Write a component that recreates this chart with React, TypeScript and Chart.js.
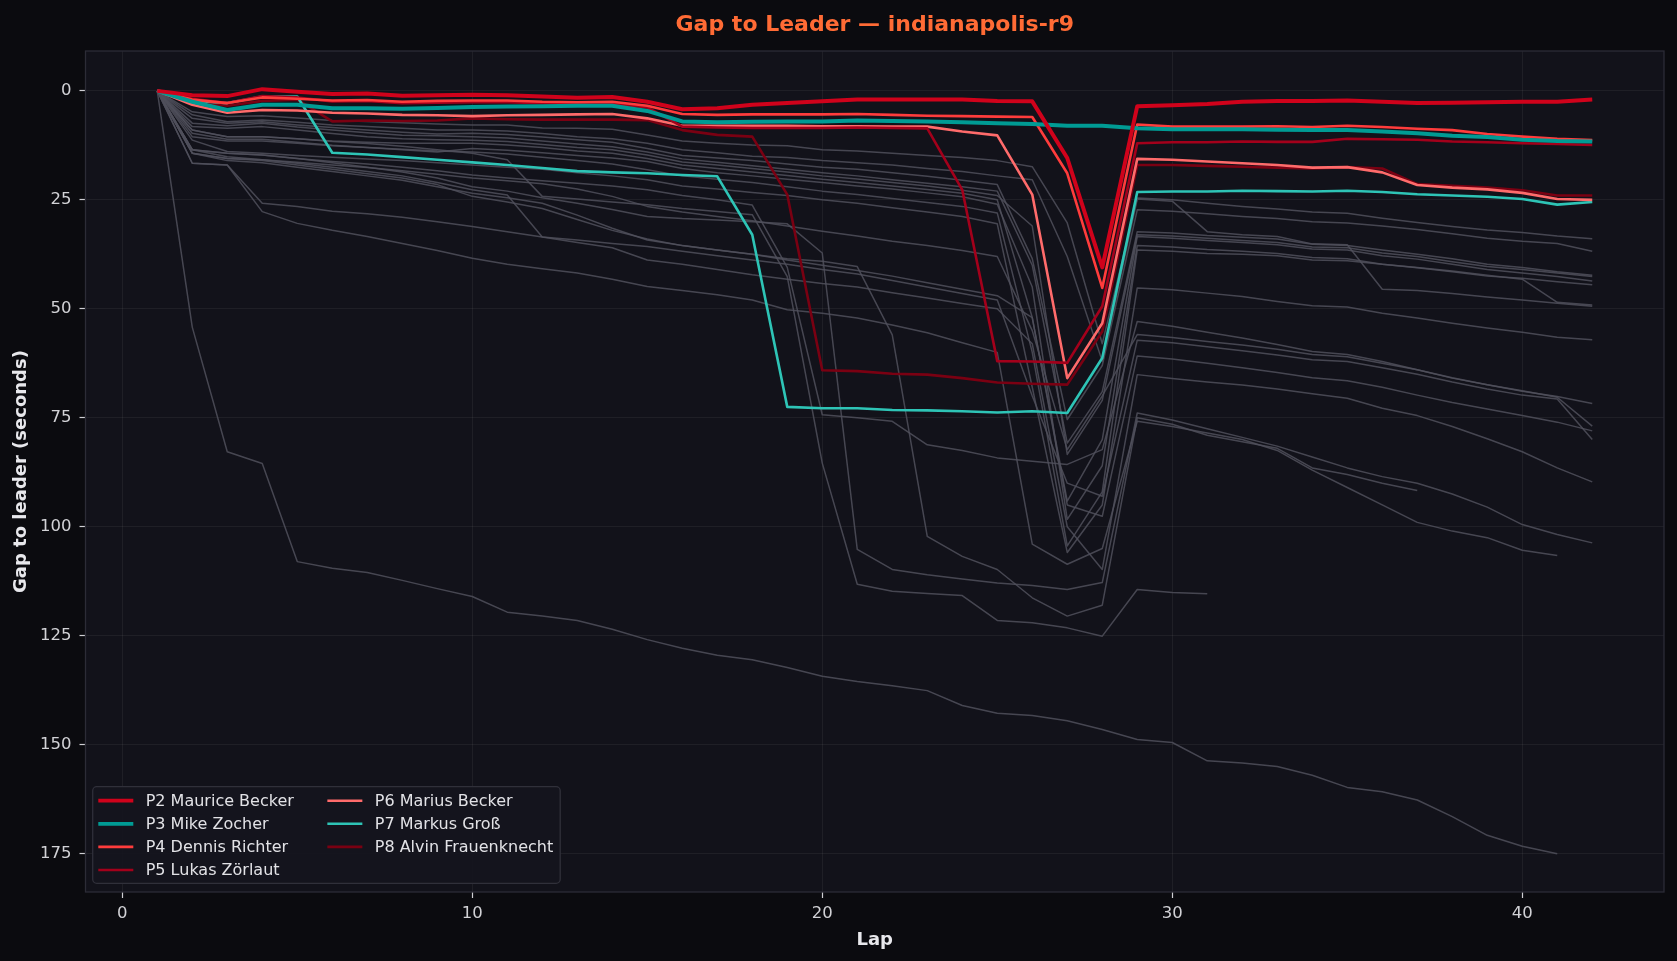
import React, { useEffect, useRef } from 'react';
import { Chart, registerables } from 'chart.js';

Chart.register(...registerables);

// ---------- data ----------
const laps = [1, 2, 3, 4, 5, 6, 7, 8, 9, 10, 11, 12, 13, 14, 15, 16, 17, 18, 19, 20, 21, 22, 23, 24, 25, 26, 27, 28, 29, 30, 31, 32, 33, 34, 35, 36, 37, 38, 39, 40, 41, 42];
const xTickValues = [0, 10, 20, 30, 40];
const yTickValues = [0, 25, 50, 75, 100, 125, 150, 175];

const chartTitle = 'Gap to Leader — indianapolis-r9';
const xTitle = 'Lap';
const yTitle = 'Gap to leader (seconds)';

const highlightNames = [
  'P2 Maurice Becker',
  'P3 Mike Zocher',
  'P4 Dennis Richter',
  'P5 Lukas Zörlaut',
  'P6 Marius Becker',
  'P7 Markus Groß',
  'P8 Alvin Frauenknecht',
];

const p2MauriceBecker = [0, 1.0, 1.2, -0.4, 0.2, 0.7, 0.6, 1.1, 1.0, 0.9, 1.0, 1.3, 1.6, 1.4, 2.5, 4.2, 4.0, 3.2, 2.8, 2.4, 2.0, 2.0, 2.0, 2.0, 2.3, 2.4, 15.4, 40.5, 3.5, 3.3, 3.0, 2.5, 2.3, 2.3, 2.2, 2.5, 2.8, 2.7, 2.6, 2.5, 2.5, 2.0];
const p3MikeZocher = [0, 2.5, 4.4, 3.2, 3.2, 4.0, 4.0, 4.1, 3.9, 3.7, 3.6, 3.5, 3.4, 3.4, 4.6, 7.0, 7.2, 7.1, 7.0, 7.0, 6.8, 6.9, 7.0, 7.2, 7.4, 7.6, 8.0, 8.0, 8.6, 8.8, 8.8, 8.8, 8.9, 9.0, 9.0, 9.3, 9.7, 10.3, 10.6, 11.2, 11.5, 11.6];
const p4DennisRichter = [0, 2.0, 2.8, 1.5, 1.8, 2.2, 2.1, 2.5, 2.3, 2.2, 2.2, 2.5, 2.6, 2.5, 3.4, 5.3, 5.5, 5.4, 5.4, 5.4, 5.3, 5.5, 5.7, 5.8, 5.9, 6.0, 18.9, 45.2, 7.7, 8.2, 8.2, 8.2, 8.1, 8.3, 8.0, 8.3, 8.7, 9.0, 9.9, 10.5, 11.0, 11.3];
const p5LukasZoerlaut = [0, 1.8, 2.8, 1.2, 1.5, 2.4, 2.3, 2.8, 2.7, 2.6, 2.6, 2.8, 3.0, 2.9, 3.8, 8.2, 8.4, 8.5, 8.5, 8.5, 8.4, 8.5, 8.6, 22.7, 62.0, 62.1, 62.4, 49.4, 12.0, 11.8, 11.8, 11.6, 11.7, 11.7, 11.0, 11.1, 11.2, 11.6, 11.8, 12.0, 12.2, 12.4];
const p6MariusBecker = [0, 3.2, 5.0, 4.4, 4.5, 5.0, 5.2, 5.5, 5.6, 5.8, 5.6, 5.5, 5.4, 5.3, 6.3, 8.0, 8.0, 8.0, 8.0, 8.1, 8.1, 8.2, 8.2, 9.3, 10.2, 23.8, 65.9, 53.3, 15.6, 15.8, 16.2, 16.6, 17.0, 17.6, 17.5, 18.7, 21.6, 22.2, 22.6, 23.4, 24.8, 25.0];
const p7MarkusGross = [0, 2.2, 2.8, 1.3, 1.3, 14.2, 14.6, 15.2, 15.8, 16.4, 17.0, 17.7, 18.4, 18.7, 18.9, 19.3, 19.6, 33.0, 72.5, 72.8, 72.8, 73.2, 73.3, 73.5, 73.8, 73.5, 73.9, 61.3, 23.2, 23.1, 23.1, 22.9, 23.0, 23.1, 22.9, 23.2, 23.7, 24.0, 24.3, 24.8, 26.1, 25.5];
const p8AlvinFrauenknecht = [0, 2.4, 3.4, 2.3, 2.0, 7.0, 6.8, 6.9, 6.8, 6.3, 6.5, 6.6, 6.6, 6.6, 6.7, 9.0, 10.1, 10.5, 23.8, 64.1, 64.3, 64.9, 65.1, 65.9, 66.9, 67.2, 67.4, 55.2, 17.0, 17.0, 17.2, 17.4, 17.6, 17.8, 17.5, 17.8, 21.4, 21.8, 22.2, 22.8, 24.0, 24.0];

// other drivers (grey background lines)
const greyA = [0, 4.8, 5.9, 5.7, 6.2, 6.8, 7.0, 7.3, 7.6, 7.8, 7.8, 8.5, 8.6, 8.8, 10.1, 11.5, 12.0, 12.4, 12.6, 13.5, 13.8, 14.3, 14.8, 15.3, 16.0, 17.4, 30.3, 58.0, 24.6, 25.0, 25.8, 26.5, 27.1, 27.8, 28.1, 29.2, 30.2, 31.1, 31.9, 32.5, 33.3, 33.9];
const greyB = [0, 5.5, 7.1, 6.7, 7.2, 7.8, 8.2, 8.6, 9.0, 9.0, 9.2, 9.8, 10.5, 11.0, 12.0, 13.5, 14.2, 15.0, 15.3, 16.0, 16.5, 17.0, 17.8, 18.5, 19.5, 20.4, 38.0, 62.0, 24.8, 25.3, 32.3, 33.0, 33.4, 35.1, 35.3, 45.5, 45.8, 46.5, 47.3, 48.0, 48.7, 49.4];
const greyC = [0, 6.3, 7.4, 7.1, 7.8, 8.4, 9.0, 9.5, 9.9, 9.7, 10.0, 10.6, 11.2, 11.8, 13.2, 14.8, 15.4, 16.0, 16.8, 17.5, 18.0, 18.8, 19.6, 20.5, 21.5, 38.5, 75.4, 63.0, 27.3, 27.6, 28.2, 28.8, 29.3, 30.0, 30.3, 31.0, 31.8, 32.8, 33.8, 34.5, 35.0, 36.8];
const greyD = [0, 7.4, 8.0, 7.4, 8.3, 9.0, 9.6, 10.2, 10.3, 10.5, 10.8, 11.5, 12.2, 12.8, 14.0, 15.6, 16.4, 17.2, 18.0, 18.8, 19.5, 20.4, 21.2, 22.0, 23.0, 40.0, 80.8, 69.0, 32.3, 32.6, 33.2, 33.6, 34.0, 35.2, 35.5, 36.5, 37.5, 38.5, 39.8, 40.5, 41.5, 42.3];
const greyE = [0, 8.2, 8.6, 8.2, 9.0, 9.8, 10.5, 11.0, 11.2, 11.3, 11.6, 12.3, 13.0, 13.5, 14.7, 16.3, 17.0, 17.8, 18.6, 19.5, 20.2, 21.0, 21.8, 22.8, 24.0, 31.0, 83.4, 71.0, 33.0, 33.3, 33.8, 34.3, 34.8, 35.8, 36.0, 37.2, 38.0, 39.2, 40.3, 41.0, 41.8, 42.6];
const greyF = [0, 9.0, 10.5, 10.5, 11.0, 11.5, 11.8, 12.0, 12.0, 12.0, 12.4, 13.0, 13.8, 14.3, 15.5, 17.0, 17.8, 18.6, 19.4, 20.3, 21.0, 21.8, 22.6, 23.5, 25.0, 52.0, 94.1, 80.0, 33.4, 33.8, 34.3, 34.8, 35.3, 36.3, 36.5, 37.8, 38.6, 39.8, 41.0, 41.8, 42.6, 43.6];
const greyG = [0, 9.7, 11.1, 11.1, 11.8, 12.5, 13.0, 13.5, 14.0, 13.2, 13.6, 14.2, 14.8, 15.4, 16.2, 17.8, 18.8, 19.5, 20.3, 21.0, 21.8, 22.5, 23.4, 24.3, 26.0, 45.0, 98.3, 86.0, 35.5, 35.8, 36.4, 36.8, 37.3, 38.2, 38.5, 39.8, 40.6, 41.5, 42.5, 43.0, 43.8, 44.5];
const greyH = [0, 10.5, 11.5, 11.5, 12.0, 12.6, 13.0, 13.4, 13.8, 14.0, 14.5, 15.2, 16.0, 16.8, 18.1, 19.5, 20.3, 21.0, 22.0, 23.0, 23.8, 24.7, 25.6, 26.5, 28.0, 60.0, 104.4, 92.0, 36.5, 36.8, 37.3, 37.5, 37.8, 38.8, 39.0, 39.8, 40.5, 41.3, 42.3, 43.2, 48.5, 49.1];
const greyI = [0, 11.3, 13.9, 14.3, 14.8, 15.2, 15.6, 16.0, 16.5, 17.0, 17.5, 18.0, 18.8, 19.5, 20.4, 21.8, 22.5, 23.3, 24.0, 25.0, 25.8, 26.8, 27.8, 28.8, 30.5, 68.0, 105.9, 95.0, 45.2, 45.6, 46.4, 47.2, 48.3, 49.3, 49.6, 51.0, 52.1, 53.3, 54.4, 55.4, 56.5, 57.1];
const greyJ = [0, 13.5, 14.3, 14.7, 15.5, 16.2, 16.8, 17.5, 18.3, 19.3, 20.0, 20.6, 21.2, 21.8, 22.7, 24.0, 25.0, 26.2, 40.5, 74.3, 75.0, 75.8, 81.2, 82.5, 84.2, 85.0, 85.7, 82.3, 52.9, 54.0, 55.4, 56.7, 58.2, 59.8, 60.5, 62.1, 64.0, 65.9, 67.4, 68.9, 70.1, 71.7];
const greyK = [0, 9.0, 10.5, 10.5, 11.0, 11.6, 12.1, 12.7, 13.5, 14.3, 15.8, 24.2, 24.8, 25.5, 26.1, 27.0, 27.7, 28.4, 42.6, 85.4, 113.2, 114.8, 115.3, 115.8, 121.5, 122.0, 123.2, 125.1, 114.4, 115.1, 115.4];
const greyL = [0, 13.5, 15.1, 15.8, 16.4, 17.0, 17.6, 18.3, 19.1, 20.0, 20.6, 21.3, 22.5, 24.2, 26.5, 27.8, 28.8, 29.8, 31.0, 32.2, 33.3, 34.5, 35.5, 36.6, 38.0, 55.0, 82.3, 70.0, 55.9, 56.6, 57.5, 58.3, 59.3, 60.5, 61.0, 62.5, 64.0, 65.8, 67.4, 68.8, 70.3, 76.9];
const greyM = [0, 14.3, 15.5, 15.8, 16.6, 17.5, 18.5, 19.5, 21.0, 22.7, 23.9, 33.5, 34.2, 35.0, 35.7, 36.8, 37.8, 38.8, 39.8, 41.0, 42.0, 43.5, 45.0, 46.5, 48.0, 70.0, 90.0, 93.0, 57.2, 57.8, 58.7, 59.6, 60.6, 61.7, 62.1, 63.5, 65.0, 66.8, 68.4, 69.8, 70.7, 80.0];
const greyN = [0, 14.3, 16.0, 16.5, 17.5, 18.5, 19.5, 20.5, 22.0, 23.5, 24.5, 25.8, 28.5, 31.5, 34.2, 35.5, 36.5, 37.5, 38.8, 40.0, 41.2, 42.5, 44.0, 45.5, 47.0, 52.0, 95.0, 97.6, 60.8, 61.5, 62.5, 63.5, 64.6, 65.8, 66.5, 68.0, 69.8, 71.5, 73.0, 74.5, 76.0, 78.0];
const greyO = [0, 16.6, 17.0, 25.8, 26.5, 27.6, 28.2, 29.0, 30.0, 31.1, 32.3, 33.5, 34.8, 36.0, 38.8, 39.8, 41.0, 42.2, 43.2, 44.2, 45.0, 46.3, 47.5, 48.8, 50.0, 58.0, 100.0, 109.8, 65.1, 66.0, 66.8, 67.5, 68.4, 69.5, 70.5, 72.8, 74.5, 77.0, 79.8, 82.8, 86.5, 89.7];
const greyP = [0, 16.6, 17.0, 27.7, 30.4, 32.0, 33.4, 35.0, 36.6, 38.4, 39.8, 40.8, 41.8, 43.2, 44.9, 45.8, 46.8, 48.0, 50.2, 51.0, 52.1, 53.7, 55.5, 57.8, 60.0, 104.0, 108.6, 105.0, 75.8, 77.0, 78.5, 80.0, 82.5, 87.0, 91.0, 95.0, 99.0, 101.0, 102.5, 105.4, 106.6];
const greyQ = [0, 13.5, 14.3, 14.7, 15.5, 16.5, 17.5, 18.6, 20.0, 22.0, 23.0, 24.5, 25.8, 27.2, 28.8, 29.3, 29.6, 30.0, 30.5, 37.2, 105.2, 109.8, 111.0, 112.0, 112.9, 113.5, 114.4, 112.8, 73.9, 75.5, 77.5, 79.5, 81.5, 84.0, 86.5, 88.5, 90.0, 92.5, 95.5, 99.5, 101.8, 103.7];
const greyR = [0, 14.3, 15.5, 16.0, 17.0, 18.0, 19.0, 20.0, 21.5, 24.2, 25.5, 27.0, 29.5, 32.0, 34.0, 35.5, 36.5, 37.5, 38.5, 39.1, 40.3, 56.0, 102.2, 106.8, 109.8, 116.3, 120.5, 118.0, 75.0, 76.5, 79.0, 80.5, 82.0, 86.5, 88.0, 90.0, 91.7];
const greyS = [0, 54.2, 82.8, 85.5, 108.0, 109.5, 110.5, 112.3, 114.2, 116.0, 119.6, 120.5, 121.5, 123.5, 125.9, 127.9, 129.5, 130.5, 132.3, 134.3, 135.5, 136.5, 137.6, 141.0, 142.8, 143.3, 144.5, 146.5, 148.8, 149.5, 153.7, 154.2, 155.0, 157.0, 159.8, 160.8, 162.7, 166.5, 170.8, 173.3, 175.0];

const highlightSeries = [p2MauriceBecker, p3MikeZocher, p4DennisRichter, p5LukasZoerlaut, p6MariusBecker, p7MarkusGross, p8AlvinFrauenknecht];
const greySeries = [greyA, greyB, greyC, greyD, greyE, greyF, greyG, greyH, greyI, greyJ, greyK, greyL, greyM, greyN, greyO, greyP, greyQ, greyR, greyS];

// ---------- styles ----------
const FONT = '"DejaVu Sans", "Liberation Sans", sans-serif';
const FIG_BG = '#0b0b0f';
const AX_BG = '#12121a';
const highlightStyle = [
  { color: '#d0021b', width: 4, legendWidth: 3.8 },
  { color: '#009b94', width: 4, legendWidth: 3.8 },
  { color: '#ff3c3c', width: 2.6, legendWidth: 2.6 },
  { color: '#a3001b', width: 2.6, legendWidth: 2.6 },
  { color: '#ff6b6b', width: 2.6, legendWidth: 2.6 },
  { color: '#2ec4b6', width: 2.6, legendWidth: 2.6 },
  { color: '#7a0012', width: 2.6, legendWidth: 2.6 },
];
const GREY = 'rgba(80,80,92,0.85)';

const toPoints = (vals: number[]) => vals.map((v, i) => ({ x: laps[i], y: v }));

const bgPlugin = {
  id: 'bgPlugin',
  beforeDraw(chart: any) {
    const { ctx, chartArea, width, height } = chart;
    ctx.save();
    ctx.fillStyle = FIG_BG;
    ctx.fillRect(0, 0, width, height);
    ctx.fillStyle = AX_BG;
    ctx.fillRect(chartArea.left, chartArea.top, chartArea.right - chartArea.left, chartArea.bottom - chartArea.top);
    ctx.restore();
  },
};

const framePlugin = {
  id: 'framePlugin',
  afterDatasetsDraw(chart: any) {
    const { ctx, chartArea } = chart;
    ctx.save();
    ctx.strokeStyle = '#2c2c36';
    ctx.lineWidth = 1.3;
    ctx.strokeRect(chartArea.left, chartArea.top, chartArea.right - chartArea.left, chartArea.bottom - chartArea.top);
    ctx.restore();
  },
};

const titlePlugin = {
  id: 'titlePlugin',
  afterDraw(chart: any) {
    const { ctx, chartArea } = chart;
    ctx.save();
    ctx.font = `bold 22px ${FONT}`;
    ctx.fillStyle = '#ff6b35';
    ctx.textAlign = 'center';
    ctx.textBaseline = 'middle';
    ctx.fillText(chartTitle, (chartArea.left + chartArea.right) / 2, 25);
    ctx.restore();
  },
};

const legendPlugin = {
  id: 'legendPlugin',
  afterDraw(chart: any) {
    const { ctx, chartArea } = chart;
    const items = chart.data.datasets.filter((d: any) => d.inLegend);
    ctx.save();
    ctx.font = `16px ${FONT}`;
    const rows = 4;
    const rowH = 23.1;
    const handleX = 5.6;
    const handleLen = 35;
    const textOff = 47.4;
    const colGap = 33.5;
    const col1 = items.slice(0, rows);
    const col2 = items.slice(rows);
    const w1 = Math.max(...col1.map((d: any) => ctx.measureText(d.label).width));
    const w2 = col2.length ? Math.max(...col2.map((d: any) => ctx.measureText(d.label).width)) : 0;
    const col2X = handleX + textOff + w1 + colGap;
    const boxW = col2X + textOff + w2 + 7;
    const boxH = 14 + (rows - 1) * rowH + 13.3;
    const bx = chartArea.left + 7.2;
    const by = chartArea.bottom - 8.7 - boxH;
    ctx.beginPath();
    if (ctx.roundRect) ctx.roundRect(bx, by, boxW, boxH, 4);
    else ctx.rect(bx, by, boxW, boxH);
    ctx.fillStyle = 'rgba(21,21,29,0.92)';
    ctx.fill();
    ctx.strokeStyle = '#30303a';
    ctx.lineWidth = 1.3;
    ctx.stroke();
    items.forEach((d: any, i: number) => {
      const col = Math.floor(i / rows);
      const row = i % rows;
      const x0 = bx + (col === 0 ? handleX : col2X);
      const y = by + 14 + row * rowH;
      ctx.beginPath();
      ctx.strokeStyle = d.borderColor;
      ctx.lineWidth = d.legendWidth;
      ctx.lineCap = 'butt';
      ctx.moveTo(x0, y);
      ctx.lineTo(x0 + handleLen, y);
      ctx.stroke();
      ctx.fillStyle = '#e2e2e6';
      ctx.textAlign = 'left';
      ctx.textBaseline = 'middle';
      ctx.fillText(d.label, x0 + textOff, y + 1);
    });
    ctx.restore();
  },
};

export default function App() {
  const canvasRef = useRef<HTMLCanvasElement | null>(null);

  useEffect(() => {
    document.body.style.margin = '0';
    document.body.style.background = FIG_BG;
    const canvas = canvasRef.current;
    if (!canvas) return;

    const highlightDatasets = highlightSeries.map((vals, i) => ({
      label: highlightNames[i],
      data: toPoints(vals),
      borderColor: highlightStyle[i].color,
      backgroundColor: highlightStyle[i].color,
      borderWidth: highlightStyle[i].width,
      legendWidth: highlightStyle[i].legendWidth,
      inLegend: true,
      pointRadius: 0,
      tension: 0,
      fill: false,
      borderJoinStyle: 'round',
      borderCapStyle: 'butt',
    }));
    const greyDatasets = greySeries.map((vals, i) => ({
      label: `other-${i}`,
      data: toPoints(vals),
      borderColor: GREY,
      backgroundColor: GREY,
      borderWidth: 1.5,
      inLegend: false,
      pointRadius: 0,
      tension: 0,
      fill: false,
      borderJoinStyle: 'round',
    }));

    const chart = new Chart(canvas, {
      type: 'line',
      data: { datasets: [...highlightDatasets, ...greyDatasets] as any },
      options: {
        animation: false,
        responsive: false,
        events: [],
        layout: { padding: { top: 51, right: 13, left: 0, bottom: 0 } },
        plugins: {
          legend: { display: false },
          title: { display: false },
          tooltip: { enabled: false },
        },
        scales: {
          x: {
            type: 'linear',
            min: -1.05,
            max: 44.05,
            afterBuildTicks: (s: any) => {
              s.ticks = xTickValues.map((v) => ({ value: v }));
            },
            afterFit: (s: any) => {
              s.height = 69;
            },
            border: { display: false },
            grid: {
              color: 'rgba(255,255,255,0.055)',
              lineWidth: 1,
              tickColor: '#cfcfd4',
              tickLength: 6,
              tickWidth: 1.2,
            },
            ticks: {
              color: '#d2d2d6',
              font: { family: FONT, size: 16.5 },
              padding: 6,
              maxRotation: 0,
              autoSkip: false,
            },
            title: {
              display: true,
              text: xTitle,
              color: '#e8e8ec',
              font: { family: FONT, size: 18, weight: 'bold' },
              padding: { top: 0, bottom: 10 },
            },
          },
          y: {
            type: 'linear',
            reverse: true,
            min: -9.15,
            max: 183.8,
            afterBuildTicks: (s: any) => {
              s.ticks = yTickValues.map((v) => ({ value: v }));
            },
            afterFit: (s: any) => {
              s.width = 85.5;
            },
            border: { display: false },
            grid: {
              color: 'rgba(255,255,255,0.055)',
              lineWidth: 1,
              tickColor: '#cfcfd4',
              tickLength: 6,
              tickWidth: 1.2,
            },
            ticks: {
              color: '#d2d2d6',
              font: { family: FONT, size: 16.5 },
              padding: 8,
              autoSkip: false,
            },
            title: {
              display: true,
              text: yTitle,
              color: '#e8e8ec',
              font: { family: FONT, size: 18, weight: 'bold' },
              padding: { top: 11, bottom: 0 },
            },
          },
        },
      } as any,
      plugins: [bgPlugin, framePlugin, titlePlugin, legendPlugin],
    });

    return () => {
      chart.destroy();
    };
  }, []);

  return (
    <div style={{ width: 1677, height: 961, background: FIG_BG }}>
      <canvas ref={canvasRef} width={1677} height={961} style={{ display: 'block', width: 1677, height: 961 }} />
    </div>
  );
}
